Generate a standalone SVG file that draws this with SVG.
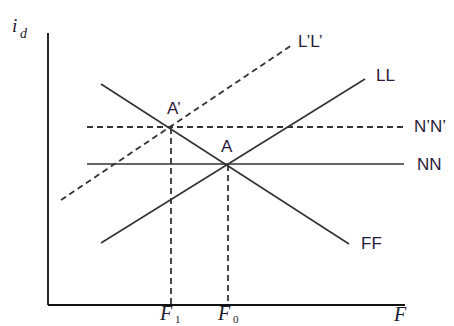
<svg xmlns="http://www.w3.org/2000/svg" width="454" height="326" viewBox="0 0 454 326">
<style>
.ax{stroke:#111;stroke-width:1.8;fill:none}
.ln{stroke:#333;stroke-width:1.6;fill:none}
.ds{stroke:#333;stroke-width:1.8;fill:none;stroke-dasharray:6 4}
.lb{font-family:"Liberation Sans",Arial,sans-serif;font-size:17px;fill:#2b1a3a}
.mt{font-family:"Liberation Serif","Times New Roman",serif;font-style:italic;fill:#1e1a2e}
.sb{font-family:"Liberation Serif","Times New Roman",serif;fill:#1e1a2e}
</style>
<rect width="454" height="326" fill="#fff"/>
<g id="axes">
<line class="ax" x1="48" y1="33" x2="48" y2="305"/>
<line class="ax" x1="48" y1="305" x2="405" y2="305"/>
</g>
<g id="connectors">
<line id="FF" class="ln" x1="101" y1="84" x2="349" y2="244"/>
<line id="LL" class="ln" x1="101" y1="243" x2="365" y2="79"/>
<line id="NN" class="ln" x1="87" y1="164" x2="404" y2="164"/>
<line id="NpNp" class="ds" x1="87" y1="127" x2="405" y2="127"/>
<line id="LpLp" class="ds" x1="61" y1="200" x2="292" y2="45"/>
<line id="dropF1" class="ds" x1="171" y1="128" x2="171" y2="305"/>
<line id="dropF0" class="ds" x1="228" y1="165" x2="228" y2="305"/>
</g>
<g id="labels">
<text class="mt" x="12" y="32" font-size="19">i</text><text class="mt" x="20" y="38" font-size="14">d</text>
<text class="lb" x="298" y="47">L’L’</text>
<text class="lb" x="376" y="81">LL</text>
<text class="lb" x="414" y="132">N’N’</text>
<text class="lb" x="417" y="170">NN</text>
<text class="lb" x="361" y="249">FF</text>
<text class="lb" x="167" y="114" font-size="16">A’</text>
<text class="lb" x="221" y="152" font-size="16">A</text>
<text class="mt" x="394" y="321" font-size="20">F</text>
<text class="mt" x="160" y="320" font-size="20">F</text><text class="sb" x="175" y="323" font-size="11">1</text>
<text class="mt" x="218" y="320" font-size="20">F</text><text class="sb" x="233" y="323" font-size="11">0</text>
</g>
</svg>
